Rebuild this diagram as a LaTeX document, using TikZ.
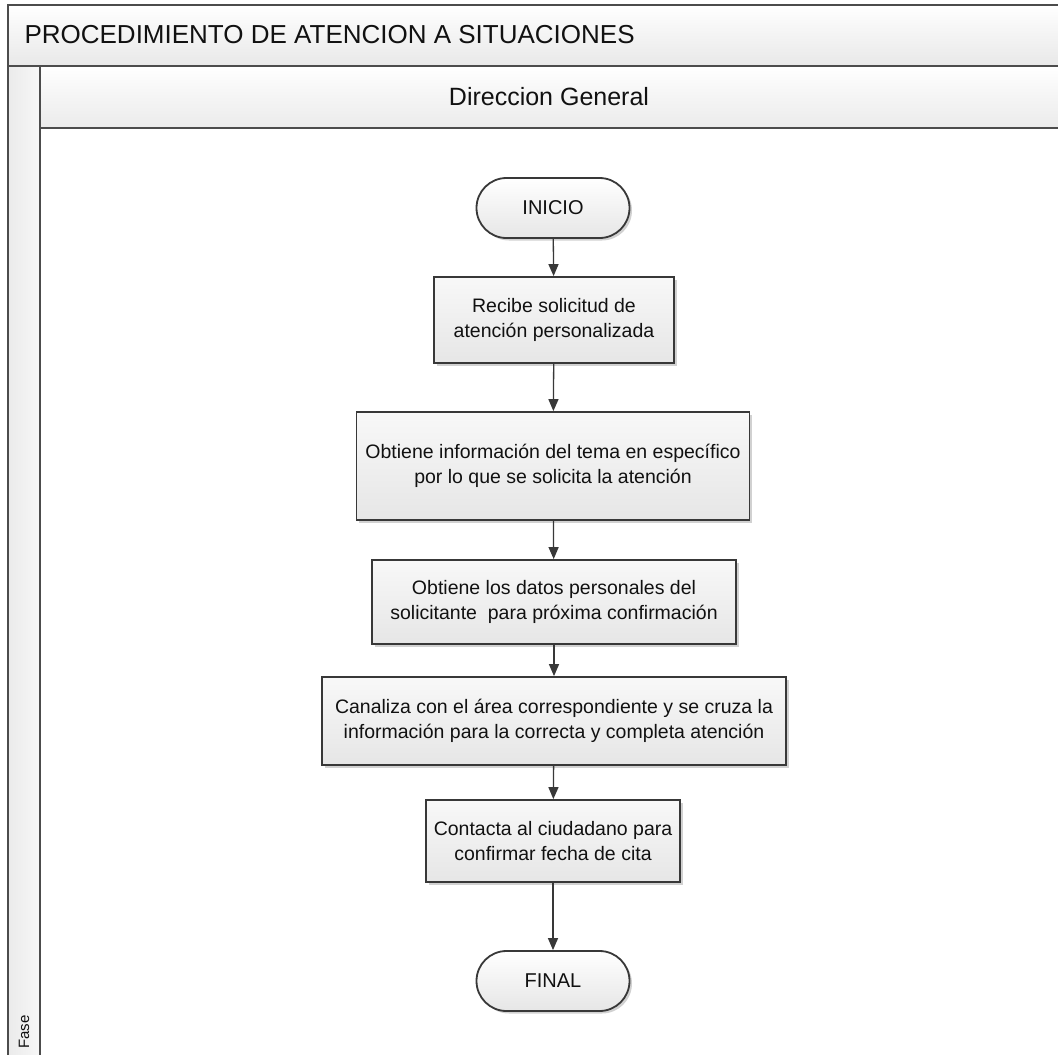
\documentclass[tikz,border=0pt]{standalone}
\usepackage{fontspec}
\setmainfont{Liberation Sans}
\usetikzlibrary{shapes.misc,shadows,arrows.meta}
\definecolor{linec}{HTML}{383838}
\definecolor{framec}{HTML}{4C4C4C}
\definecolor{txtc}{HTML}{111111}
\definecolor{boxtop}{HTML}{F8F8F8}
\definecolor{boxbot}{HTML}{E6E6E6}
\tikzset{
  procbox/.style={rectangle, draw=linec, line width=1.8pt, top color=boxtop, bottom color=boxbot,
    align=center, text=txtc, font=\fontsize{19.5}{25}\selectfont, inner sep=0pt,
    drop shadow={shadow xshift=2.5pt, shadow yshift=-2.5pt, opacity=0.18, fill=black}},
  termbox/.style={rounded rectangle, draw=linec, line width=1.8pt, top color=white, bottom color=boxbot,
    align=center, text=txtc, font=\fontsize{20}{24}\selectfont, inner sep=0pt,
    minimum width=153pt, minimum height=60pt,
    drop shadow={shadow xshift=2.5pt, shadow yshift=-2.5pt, opacity=0.18, fill=black}},
  flowarrow/.style={draw=linec, line width=1.3pt, -{Triangle[length=12pt,width=10pt]}},
  frameline/.style={draw=framec, line width=1.6pt}
}
\begin{document}
\begin{tikzpicture}[x=1pt,y=-1pt]
\useasboundingbox (0,0) rectangle (1058,1055);
\begin{scope}
\clip (0,0) rectangle (1058,1055);
\fill[white] (0,0) rectangle (1058,1055);
% title band
\shade[top color=white, bottom color=black!9] (8,5) rectangle (1070,66);
% lane header
\shade[top color=white, bottom color=black!8] (40,66) rectangle (1070,128);
% phase column
\shade[left color=black!8, right color=black!3] (8,66) rectangle (40,1070);
% frame lines
\draw[frameline] (8,1070) -- (8,5) -- (1070,5);
\draw[frameline] (8,66) -- (1070,66);
\draw[frameline] (40,66) -- (40,1070);
\draw[frameline] (40,128) -- (1070,128);
\end{scope}

\node[anchor=west, text=txtc, font=\fontsize{26}{30}\selectfont] (title) at (21,35) {PROCEDIMIENTO DE ATENCION A SITUACIONES};
\node[text=txtc, font=\fontsize{25}{29}\selectfont] (lane) at (549,97) {Direccion General};
\node[rotate=90, text=txtc, font=\fontsize{15}{17}\selectfont] (fase) at (24,1032) {Fase};

\node[termbox] (inicio) at (553,208) {INICIO};
\node[procbox, minimum width=240pt, minimum height=86pt] (b1) at (554,320) {Recibe solicitud de\\atención personalizada};
\node[procbox, minimum width=393pt, minimum height=108pt] (b2) at (553,466) {Obtiene información del tema en específico\\por lo que se solicita la atención};
\node[procbox, minimum width=364pt, minimum height=84pt] (b3) at (554,602) {Obtiene los datos personales del\\solicitante~ para próxima confirmación};
\node[procbox, minimum width=464pt, minimum height=88pt] (b4) at (554,721) {Canaliza con el área correspondiente y se cruza la\\información para la correcta y completa atención};
\node[procbox, minimum width=254pt, minimum height=82pt] (b5) at (553,841) {Contacta al ciudadano para\\confirmar fecha de cita};
\node[termbox] (final) at (553,981) {FINAL};

\draw[flowarrow] (inicio) -- (b1);
\draw[flowarrow] (b1) -- (b2);
\draw[flowarrow] (b2) -- (b3);
\draw[flowarrow] (b3) -- (b4);
\draw[flowarrow] (b4) -- (b5);
\draw[flowarrow] (b5) -- (final);
\end{tikzpicture}
\end{document}
